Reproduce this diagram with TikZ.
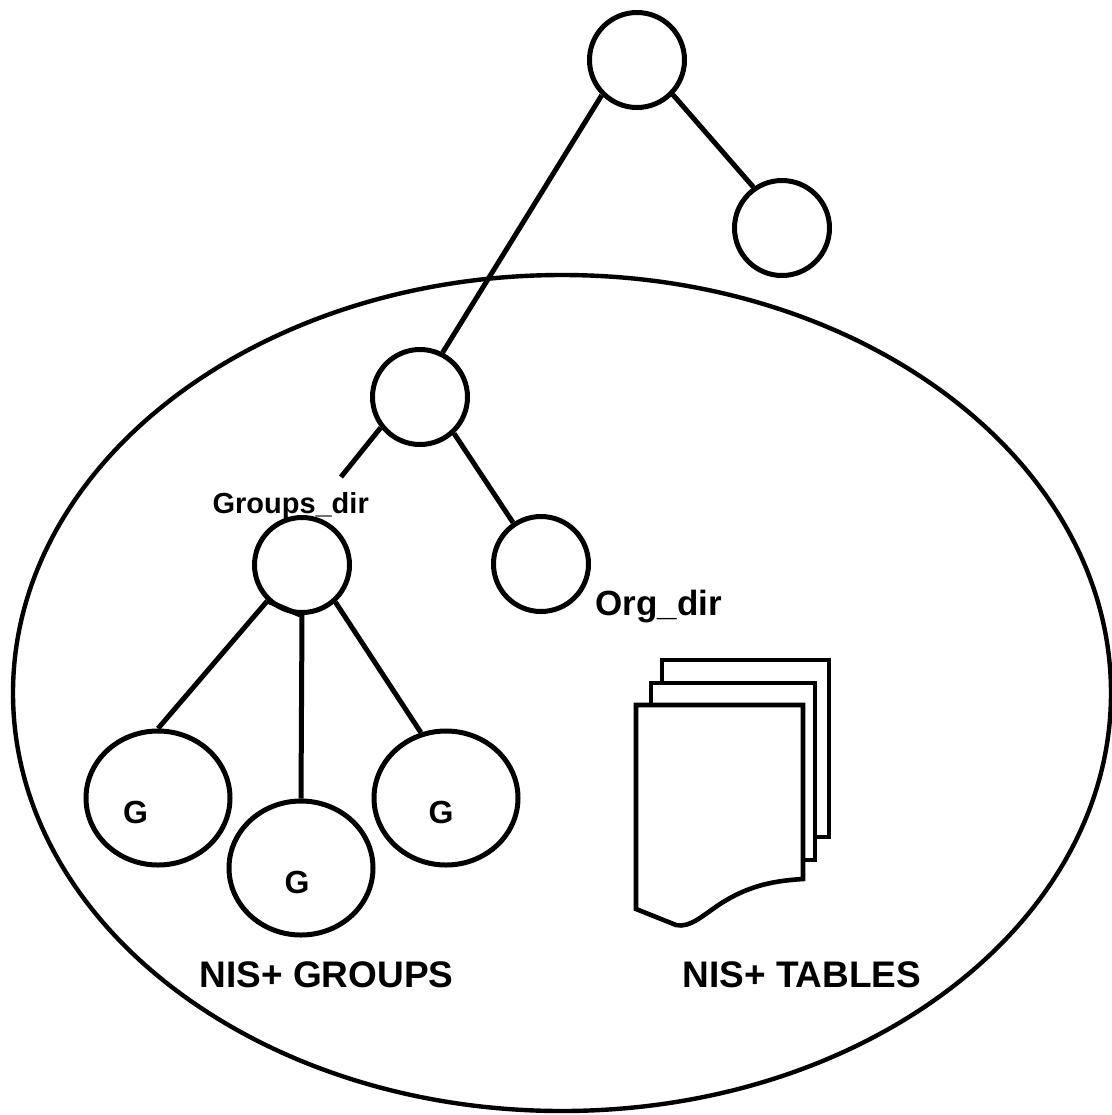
\documentclass[tikz,border=0pt]{standalone}
\usepackage{fontspec}
\setmainfont{Liberation Sans}
\usetikzlibrary{shapes.geometric}
\begin{document}
\begin{tikzpicture}[x=0.5pt, y=-0.5pt, line width=2.5pt,
  dirnode/.style={circle, draw, minimum size=47.5pt, inner sep=0pt},
  grpnode/.style={ellipse, draw, minimum width=72pt, minimum height=67pt, inner sep=0pt},
  domainnode/.style={ellipse, draw, line width=2.2pt, minimum width=549pt, minimum height=418pt, inner sep=0pt},
  smalllbl/.style={font=\bfseries\fontsize{14.5}{17}\selectfont, inner sep=0pt},
  midlbl/.style={font=\bfseries\fontsize{17.5}{20}\selectfont, inner sep=0pt},
  glbl/.style={font=\bfseries\fontsize{16}{19}\selectfont, inner sep=0pt},
  biglbl/.style={font=\bfseries\fontsize{18.5}{22}\selectfont, inner sep=0pt},
  page/.style={draw, fill=white, line width=2.3pt}]
\useasboundingbox (0,0) rectangle (1112,1115);

% the domain boundary
\node[domainnode] (domain) at (562,693) {};

% directory tree
\node[dirnode] (top)  at (637,60)  {};
\node[dirnode] (leaf) at (782,228) {};
\node[dirnode] (mid)  at (420,397) {};
\node[dirnode] (grp)  at (302,565) {};
\node[dirnode] (org)  at (541,564) {};

% group objects
\node[grpnode] (gl) at (158,798) {};
\node[grpnode] (gm) at (301,868) {};
\node[grpnode] (gr) at (446,798) {};

\node[glbl, anchor=base] (gltxt) at (135.5,823) {G};
\node[glbl, anchor=base] (gmtxt) at (297,893) {G};
\node[glbl, anchor=base] (grtxt) at (441,823) {G};

% labels
\node[smalllbl, anchor=base west] (grplbl) at (210,513) {Groups\_dir};
\node[midlbl, anchor=base west] (orglbl) at (593,615) {Org\_dir};
\node[biglbl, anchor=base west] (groupslbl) at (197,987) {NIS+ GROUPS};
\node[biglbl, anchor=base west] (tableslbl) at (680,987) {NIS+ TABLES};

% tree links
\coordinate (stub) at (341,477);
\draw (top.225) -- (mid.63);
\draw (top.-44) -- (leaf.125);
\draw (mid.218) -- (stub);
\draw (mid.-47) -- (org.124);
\draw (grp.226) -- (gl.north);
\draw (grp.south) -- (gm.north);
\draw (grp.-48) -- (gr.111);
\draw (grp.226) -- (grp.268);

% stack of tables
\draw[page] (662,660) rectangle (829,837);
\draw[page] (651,683) rectangle (815,860);
\draw[page] (636,705) -- (803,705) -- (803,879)
  .. controls (768,881) and (745,888) .. (720,904)
  .. controls (702,916) and (690,928) .. (676,925)
  -- (636,909) -- cycle;
\end{tikzpicture}
\end{document}
